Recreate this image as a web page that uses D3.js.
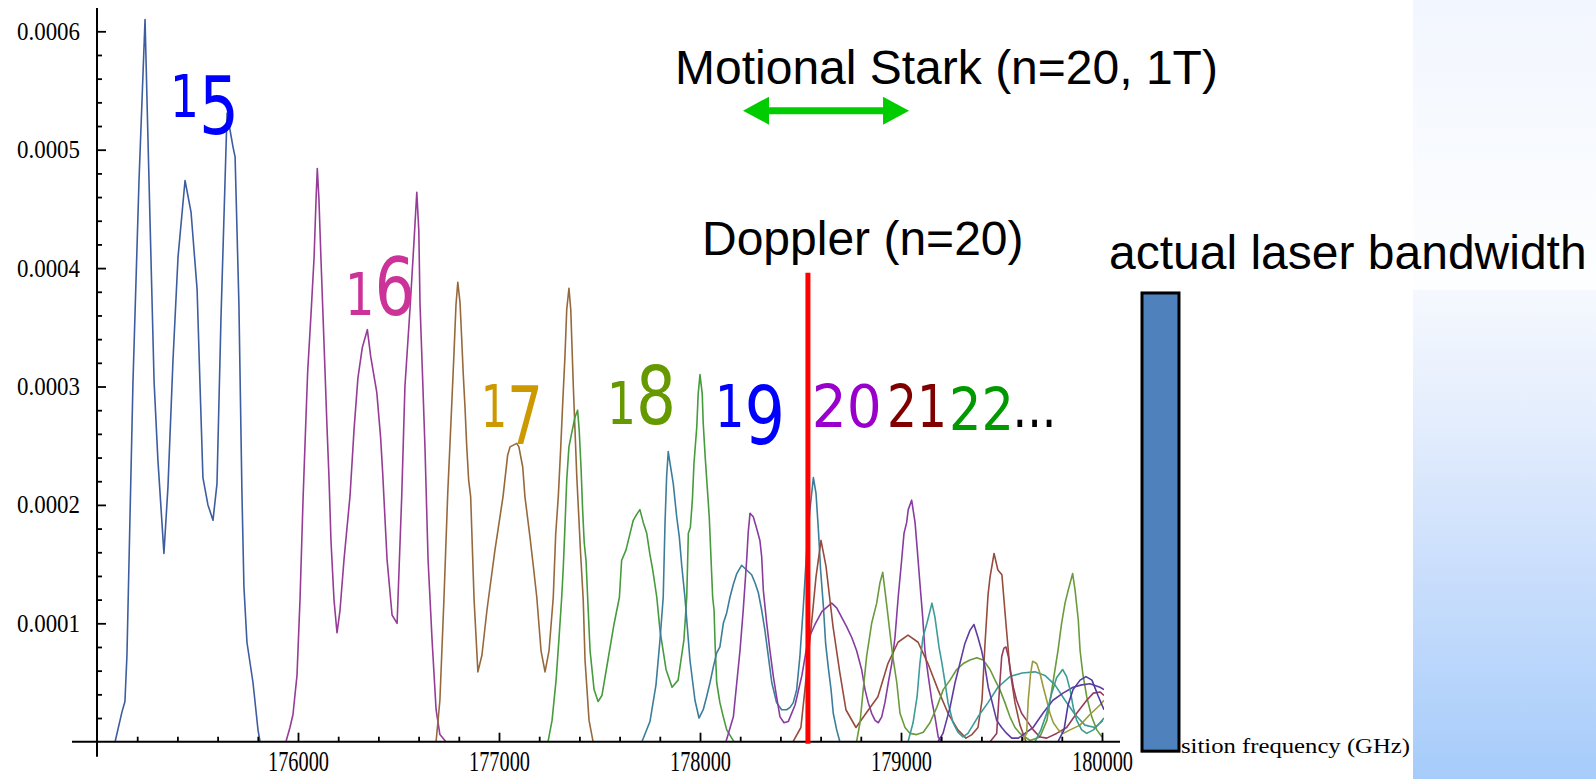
<!DOCTYPE html>
<html><head><meta charset="utf-8">
<script src="https://cdn.jsdelivr.net/npm/d3@7"></script>
<style>
html,body{margin:0;padding:0;background:#fff;overflow:hidden;}
svg{display:block;}
</style></head><body>
<svg id="chart" width="1596" height="779"></svg>
<script>
// ---------- DATA (frequency in GHz, transition strength) ----------
const series15 = [[175090,0],[175124,0.25e-4],[175139,0.34e-4],[175149,0.73e-4],[175179,3.04e-4],[175209,4.74e-4],[175239,6.10e-4],[175254,5.06e-4],[175284,3.04e-4],[175303,2.38e-4],[175333,1.59e-4],[175353,2.15e-4],[175378,3.22e-4],[175403,4.09e-4],[175438,4.74e-4],[175468,4.47e-4],[175498,3.82e-4],[175512,3.04e-4],[175527,2.23e-4],[175552,2.00e-4],[175577,1.87e-4],[175597,2.18e-4],[175617,3.59e-4],[175647,5.31e-4],[175677,5.02e-4],[175687,4.94e-4],[175706,3.70e-4],[175721,2.11e-4],[175731,1.31e-4],[175746,0.84e-4],[175776,0.50e-4],[175801,0.10e-4],[175811,0]];
const series16 = [[175940,0],[175960,0.12e-4],[175975,0.23e-4],[175995,0.56e-4],[176010,1.20e-4],[176025,2.04e-4],[176038,2.66e-4],[176048,3.12e-4],[176065,3.62e-4],[176080,4.09e-4],[176090,4.59e-4],[176096,4.84e-4],[176104,4.59e-4],[176114,4.09e-4],[176124,3.62e-4],[176134,3.15e-4],[176144,2.67e-4],[176154,2.24e-4],[176164,1.70e-4],[176179,1.20e-4],[176194,0.92e-4],[176209,1.11e-4],[176229,1.54e-4],[176259,2.08e-4],[176279,2.64e-4],[176298,3.07e-4],[176320,3.33e-4],[176345,3.48e-4],[176362,3.25e-4],[176392,2.95e-4],[176411,2.57e-4],[176421,2.28e-4],[176443,1.54e-4],[176468,1.07e-4],[176493,1.00e-4],[176516,2.07e-4],[176532,3.00e-4],[176557,3.65e-4],[176577,4.22e-4],[176591,4.64e-4],[176601,4.32e-4],[176607,3.70e-4],[176620,3.07e-4],[176632,2.47e-4],[176647,1.54e-4],[176667,0.86e-4],[176687,0.27e-4],[176706,0.06e-4],[176736,0]];
const series17 = [[176687,0],[176706,0.35e-4],[176726,1.20e-4],[176745,2.10e-4],[176756,2.51e-4],[176766,2.89e-4],[176776,3.28e-4],[176786,3.69e-4],[176795,3.88e-4],[176806,3.71e-4],[176814,3.42e-4],[176822,3.11e-4],[176831,2.82e-4],[176839,2.51e-4],[176849,2.21e-4],[176859,2.07e-4],[176876,1.20e-4],[176895,0.59e-4],[176915,0.73e-4],[176940,1.11e-4],[176980,1.62e-4],[177020,2.07e-4],[177043,2.42e-4],[177055,2.49e-4],[177088,2.52e-4],[177099,2.49e-4],[177118,2.32e-4],[177129,2.07e-4],[177154,1.73e-4],[177171,1.48e-4],[177188,1.22e-4],[177209,0.77e-4],[177229,0.59e-4],[177249,0.77e-4],[177270,1.22e-4],[177282,1.75e-4],[177295,2.07e-4],[177307,2.48e-4],[177317,2.86e-4],[177328,3.25e-4],[177337,3.65e-4],[177348,3.83e-4],[177357,3.65e-4],[177370,2.99e-4],[177387,2.24e-4],[177406,1.59e-4],[177419,1.20e-4],[177428,0.69e-4],[177448,0.18e-4],[177468,0]];
const series18 = [[177244,0],[177264,0.18e-4],[177284,0.52e-4],[177298,0.86e-4],[177312,1.22e-4],[177320,1.48e-4],[177328,1.81e-4],[177337,2.21e-4],[177348,2.49e-4],[177362,2.61e-4],[177378,2.74e-4],[177391,2.80e-4],[177399,2.63e-4],[177408,2.32e-4],[177416,1.96e-4],[177424,1.68e-4],[177433,1.53e-4],[177441,1.22e-4],[177453,0.77e-4],[177473,0.44e-4],[177493,0.34e-4],[177512,0.39e-4],[177542,0.69e-4],[177572,0.99e-4],[177599,1.22e-4],[177610,1.53e-4],[177632,1.62e-4],[177652,1.76e-4],[177668,1.87e-4],[177685,1.92e-4],[177701,1.96e-4],[177718,1.85e-4],[177735,1.76e-4],[177751,1.58e-4],[177765,1.45e-4],[177785,1.22e-4],[177801,0.94e-4],[177831,0.61e-4],[177861,0.46e-4],[177891,0.52e-4],[177920,0.86e-4],[177934,1.22e-4],[177942,1.76e-4],[177952,1.81e-4],[177962,2.04e-4],[177970,2.35e-4],[177984,2.66e-4],[177991,2.94e-4],[178000,3.10e-4],[178011,2.94e-4],[178016,2.69e-4],[178026,2.40e-4],[178036,2.15e-4],[178046,1.90e-4],[178053,1.62e-4],[178063,1.22e-4],[178070,1.11e-4],[178075,0.83e-4],[178083,0.50e-4],[178099,0.33e-4],[178116,0.21e-4],[178133,0.10e-4],[178158,0.03e-4],[178169,0]];
const series19 = [[177711,0],[177751,0.17e-4],[177781,0.48e-4],[177801,0.86e-4],[177817,1.22e-4],[177826,1.85e-4],[177834,2.24e-4],[177842,2.45e-4],[177851,2.35e-4],[177867,2.18e-4],[177884,1.90e-4],[177897,1.73e-4],[177909,1.49e-4],[177925,1.22e-4],[177950,0.69e-4],[177975,0.35e-4],[177995,0.20e-4],[178016,0.27e-4],[178033,0.38e-4],[178050,0.50e-4],[178066,0.63e-4],[178083,0.75e-4],[178099,0.80e-4],[178116,1.00e-4],[178133,1.09e-4],[178149,1.22e-4],[178166,1.33e-4],[178183,1.42e-4],[178207,1.49e-4],[178232,1.45e-4],[178257,1.41e-4],[178274,1.34e-4],[178290,1.26e-4],[178307,1.11e-4],[178323,0.94e-4],[178340,0.72e-4],[178357,0.50e-4],[178381,0.33e-4],[178406,0.27e-4],[178431,0.27e-4],[178448,0.29e-4],[178464,0.33e-4],[178481,0.44e-4],[178497,0.72e-4],[178514,1.14e-4],[178531,1.62e-4],[178547,1.96e-4],[178564,2.23e-4],[178577,2.10e-4],[178589,1.79e-4],[178600,1.45e-4],[178614,1.14e-4],[178625,0.83e-4],[178638,0.63e-4],[178652,0.44e-4],[178663,0.24e-4],[178680,0.10e-4],[178696,0]];
const series20 = [[178129,0],[178166,0.21e-4],[178183,0.50e-4],[178199,0.77e-4],[178215,1.11e-4],[178232,1.53e-4],[178240,1.77e-4],[178249,1.93e-4],[178265,1.90e-4],[178282,1.80e-4],[178298,1.70e-4],[178307,1.56e-4],[178315,1.28e-4],[178332,1.00e-4],[178348,0.77e-4],[178365,0.55e-4],[178381,0.38e-4],[178398,0.21e-4],[178418,0.16e-4],[178439,0.17e-4],[178473,0.31e-4],[178507,0.56e-4],[178537,0.86e-4],[178572,0.99e-4],[178607,1.10e-4],[178655,1.17e-4],[178680,1.13e-4],[178705,1.05e-4],[178730,0.97e-4],[178755,0.88e-4],[178779,0.77e-4],[178804,0.61e-4],[178821,0.44e-4],[178837,0.33e-4],[178854,0.24e-4],[178871,0.18e-4],[178887,0.16e-4],[178904,0.21e-4],[178920,0.33e-4],[178937,0.50e-4],[178954,0.66e-4],[178970,0.88e-4],[178986,1.22e-4],[179003,1.53e-4],[179015,1.76e-4],[179028,1.85e-4],[179036,1.96e-4],[179053,2.04e-4],[179070,1.85e-4],[179081,1.62e-4],[179094,1.34e-4],[179108,1.05e-4],[179119,0.77e-4],[179136,0.55e-4],[179153,0.35e-4],[179169,0.21e-4],[179185,0.04e-4],[179202,0]];
const series21 = [[178463,0],[178502,0.12e-4],[178522,0.44e-4],[178547,0.86e-4],[178577,1.39e-4],[178602,1.70e-4],[178627,1.48e-4],[178662,0.97e-4],[178696,0.58e-4],[178726,0.27e-4],[178776,0.12e-4],[178826,0.24e-4],[178885,0.38e-4],[178935,0.66e-4],[178985,0.84e-4],[179035,0.90e-4],[179085,0.84e-4],[179134,0.66e-4],[179184,0.44e-4],[179234,0.24e-4],[179283,0.10e-4],[179323,0.03e-4],[179353,0.06e-4],[179383,0.12e-4],[179403,0.35e-4],[179418,0.83e-4],[179433,1.24e-4],[179443,1.39e-4],[179463,1.59e-4],[179482,1.45e-4],[179502,1.41e-4],[179522,1.00e-4],[179542,0.61e-4],[179567,0.33e-4],[179592,0.14e-4],[179622,0]];
const series22 = [[178779,0],[178796,0.16e-4],[178812,0.44e-4],[178829,0.72e-4],[178854,1.00e-4],[178879,1.17e-4],[178895,1.34e-4],[178909,1.43e-4],[178920,1.28e-4],[178932,1.11e-4],[178945,0.92e-4],[178959,0.72e-4],[178979,0.50e-4],[178995,0.24e-4],[179020,0.12e-4],[179045,0.07e-4],[179078,0.06e-4],[179111,0.08e-4],[179144,0.16e-4],[179178,0.29e-4],[179210,0.44e-4],[179244,0.52e-4],[179277,0.61e-4],[179310,0.66e-4],[179343,0.69e-4],[179377,0.71e-4],[179409,0.69e-4],[179443,0.61e-4],[179468,0.52e-4],[179492,0.44e-4],[179517,0.33e-4],[179542,0.21e-4],[179567,0.12e-4],[179592,0.07e-4],[179642,0.01e-4],[179691,0.04e-4],[179726,0.18e-4],[179756,0.50e-4],[179781,0.77e-4],[179799,1.00e-4],[179816,1.17e-4],[179832,1.28e-4],[179854,1.42e-4],[179866,1.28e-4],[179882,1.03e-4],[179891,0.77e-4],[179904,0.58e-4],[179924,0.38e-4],[179949,0.21e-4],[179974,0.10e-4],[180000,0.04e-4]];
const series23 = [[179035,0],[179060,0.16e-4],[179080,0.38e-4],[179094,0.66e-4],[179109,0.88e-4],[179129,1.00e-4],[179154,1.17e-4],[179169,1.05e-4],[179189,0.80e-4],[179204,0.66e-4],[179219,0.50e-4],[179234,0.33e-4],[179259,0.16e-4],[179283,0.08e-4],[179308,0.04e-4],[179333,0.07e-4],[179383,0.21e-4],[179433,0.33e-4],[179482,0.46e-4],[179542,0.55e-4],[179602,0.58e-4],[179667,0.59e-4],[179716,0.56e-4],[179766,0.48e-4],[179816,0.35e-4],[179866,0.23e-4],[179915,0.14e-4],[179965,0.12e-4],[180005,0.18e-4]];
const series24 = [[179184,0],[179209,0.07e-4],[179244,0.29e-4],[179269,0.50e-4],[179293,0.66e-4],[179318,0.83e-4],[179343,0.94e-4],[179363,0.99e-4],[179383,0.88e-4],[179401,0.77e-4],[179418,0.63e-4],[179434,0.46e-4],[179451,0.35e-4],[179476,0.18e-4],[179501,0.12e-4],[179526,0.07e-4],[179551,0.03e-4],[179584,0.03e-4],[179617,0.07e-4],[179657,0.12e-4],[179706,0.24e-4],[179756,0.35e-4],[179806,0.41e-4],[179856,0.46e-4],[179899,0.48e-4],[179940,0.49e-4],[179990,0.46e-4],[180010,0.44e-4]];
const series25 = [[179443,0],[179476,0.07e-4],[179492,0.50e-4],[179501,0.72e-4],[179512,0.79e-4],[179522,0.80e-4],[179534,0.72e-4],[179547,0.58e-4],[179559,0.46e-4],[179575,0.35e-4],[179600,0.24e-4],[179625,0.18e-4],[179658,0.10e-4],[179691,0.04e-4],[179725,0.03e-4],[179774,0.07e-4],[179824,0.12e-4],[179874,0.24e-4],[179924,0.35e-4],[179957,0.41e-4],[179990,0.42e-4],[180010,0.39e-4]];
const series26 = [[179602,0],[179625,0.07e-4],[179633,0.35e-4],[179645,0.58e-4],[179655,0.68e-4],[179675,0.66e-4],[179691,0.58e-4],[179708,0.46e-4],[179725,0.35e-4],[179741,0.24e-4],[179758,0.16e-4],[179783,0.10e-4],[179808,0.07e-4],[179841,0.10e-4],[179891,0.14e-4],[179940,0.23e-4],[179990,0.31e-4],[180010,0.35e-4]];
const series27 = [[179667,0],[179696,0.10e-4],[179725,0.24e-4],[179750,0.41e-4],[179774,0.54e-4],[179804,0.61e-4],[179824,0.55e-4],[179841,0.44e-4],[179857,0.29e-4],[179874,0.18e-4],[179899,0.10e-4],[179924,0.07e-4],[179957,0.10e-4],[179990,0.16e-4],[180010,0.20e-4]];
const series28 = [[179781,0],[179811,0.10e-4],[179831,0.31e-4],[179856,0.44e-4],[179891,0.52e-4],[179920,0.55e-4],[179950,0.52e-4],[179980,0.39e-4],[180010,0.27e-4]];

const seriesList   = [series15, series16, series17, series18, series19, series20, series21, series22, series23, series24, series25, series26, series27, series28];
const seriesColors = ["#3d5da0","#963c96","#96693c","#469b3c","#3c7d9b","#873ca0","#964b3c","#699b3c","#3c9b9b","#5f3ca0","#963c5a","#9b9b3c","#3c9b8a","#4b3ca0"];

const xTickValues = [176000, 177000, 178000, 179000, 180000];
const xTickLabels = ["176000", "177000", "178000", "179000", "180000"];
const yTickValues = [0.0001, 0.0002, 0.0003, 0.0004, 0.0005, 0.0006];
const yTickLabels = ["0.0001", "0.0002", "0.0003", "0.0004", "0.0005", "0.0006"];

// principal quantum number labels (text, colour, centre frequency, baseline value)
const nLabels      = ["15", "16", "17", "18", "19", "20", "21", "22", "..."];
const nLabelColors = ["#0000ff", "#cc3399", "#cc9900", "#669900", "#0000ff", "#9900cc", "#800000", "#009900", "#000000"];
const nLabelFreq   = [175535, 176408, 177065, 177709, 178249, 178730, 179080, 179401, 179664];
const nLabelValue  = [5.28e-4, 3.60e-4, 2.66e-4, 2.68e-4, 2.66e-4, 2.66e-4, 2.66e-4, 2.63e-4, 2.66e-4];
const nLabelWidth  = [69, 70, 62, 69, 70, 70, 60, 65, 44];

const dopplerFreq = 178537;          // Doppler (n=20) marker
const dopplerTop = 3.96e-4;
const starkRange = [178214, 179040]; // Motional Stark (n=20, 1T) width
const starkLevel = 5.33e-4;
const laserBand = [180199, 180383];  // actual laser bandwidth bar
const laserTop = 3.79e-4;
const laserBottom = -0.08e-4;

// ---------- DRAWING ----------
const W = 1596, H = 779;
const svg = d3.select("#chart");
const x = d3.scaleLinear().domain([175000, 180000]).range([97, 1102]);
const y = d3.scaleLinear().domain([0, 0.0006]).range([741.7, 31.3]);

const defs = svg.append("defs");
const gTop = defs.append("linearGradient").attr("id", "gTop").attr("x1", 0).attr("y1", 0).attr("x2", 0).attr("y2", 1);
gTop.append("stop").attr("offset", "0%").attr("stop-color", "#f2f6fe");
gTop.append("stop").attr("offset", "100%").attr("stop-color", "#fdfeff");
const gBot = defs.append("linearGradient").attr("id", "gBot").attr("x1", 0).attr("y1", 0).attr("x2", 0).attr("y2", 1);
gBot.append("stop").attr("offset", "0%").attr("stop-color", "#f5f8fe");
gBot.append("stop").attr("offset", "25%").attr("stop-color", "#e5eefd");
gBot.append("stop").attr("offset", "60%").attr("stop-color", "#c8ddfc");
gBot.append("stop").attr("offset", "100%").attr("stop-color", "#a6ccfa");

svg.append("rect").attr("x", 0).attr("y", 0).attr("width", W).attr("height", H).attr("fill", "#ffffff");
svg.append("rect").attr("x", 1413).attr("y", 0).attr("width", W - 1413).attr("height", 290).attr("fill", "url(#gTop)");
svg.append("rect").attr("x", 1413).attr("y", 290).attr("width", W - 1413).attr("height", H - 290).attr("fill", "url(#gBot)");

defs.append("clipPath").attr("id", "plotClip").append("rect")
  .attr("x", x(175000)).attr("y", 0).attr("width", x(180010) - x(175000)).attr("height", y(0) + 1);

// curves
const line = d3.line().x(d => x(d[0])).y(d => y(d[1]));
const gCurves = svg.append("g").attr("clip-path", "url(#plotClip)");
gCurves.selectAll("path").data(seriesList).join("path")
  .attr("d", line).attr("fill", "none")
  .attr("stroke", (d, i) => seriesColors[i])
  .attr("stroke-width", 1.6).attr("stroke-linejoin", "round");

// axes lines
svg.append("line").attr("x1", x(175000) - 25).attr("x2", x(180000) + 18)
  .attr("y1", y(0)).attr("y2", y(0)).attr("stroke", "#000").attr("stroke-width", 2);
svg.append("line").attr("x1", x(175000)).attr("x2", x(175000))
  .attr("y1", 8).attr("y2", y(0) + 15).attr("stroke", "#000").attr("stroke-width", 2);

// x ticks
const xMinor = d3.range(175200, 180001, 200).filter(v => v % 1000 !== 0);
const gxMinor = svg.append("g").attr("transform", `translate(0,${y(0)})`)
  .call(d3.axisBottom(x).tickValues(xMinor).tickFormat("").tickSize(-5).tickSizeOuter(0));
gxMinor.select(".domain").remove();
const gx = svg.append("g").attr("transform", `translate(0,${y(0)})`)
  .call(d3.axisBottom(x).tickValues(xTickValues).tickFormat((d, i) => xTickLabels[i]).tickSize(-9).tickSizeOuter(0).tickPadding(9));
gx.select(".domain").remove();
gx.selectAll("text").attr("font-family", "'Liberation Serif', serif").attr("font-size", 29)
  .attr("fill", "#000").attr("textLength", 61).attr("lengthAdjust", "spacingAndGlyphs");

// y ticks
const yMinor = d3.range(0.00002, 0.000601, 0.00002).filter(v => Math.abs(v * 10000 - Math.round(v * 10000)) > 1e-6);
const gyMinor = svg.append("g").attr("transform", `translate(${x(175000)},0)`)
  .call(d3.axisLeft(y).tickValues(yMinor).tickFormat("").tickSize(-5).tickSizeOuter(0));
gyMinor.select(".domain").remove();
const gy = svg.append("g").attr("transform", `translate(${x(175000)},0)`)
  .call(d3.axisLeft(y).tickValues(yTickValues).tickFormat((d, i) => yTickLabels[i]).tickSize(-9).tickSizeOuter(0).tickPadding(17));
gy.select(".domain").remove();
gy.selectAll("text").attr("font-family", "'Liberation Serif', serif").attr("font-size", 25)
  .attr("fill", "#000").attr("textLength", 63).attr("lengthAdjust", "spacingAndGlyphs");
svg.selectAll(".tick line").attr("stroke", "#000").attr("stroke-width", 1.8);

// axis title (partly hidden in the original)
svg.append("text").attr("x", x(laserBand[1]) + 2).attr("y", 753)
  .attr("font-family", "'Liberation Serif', serif").attr("font-size", 20)
  .attr("textLength", 229).attr("lengthAdjust", "spacingAndGlyphs")
  .text("sition frequency (GHz)");

// laser bandwidth bar
svg.append("rect").attr("x", x(laserBand[0])).attr("y", y(laserTop))
  .attr("width", x(laserBand[1]) - x(laserBand[0])).attr("height", y(laserBottom) - y(laserTop))
  .attr("fill", "#4f81bd").attr("stroke", "#000").attr("stroke-width", 3);

// Doppler marker
svg.append("line").attr("x1", x(dopplerFreq)).attr("x2", x(dopplerFreq))
  .attr("y1", y(dopplerTop)).attr("y2", y(0) + 2).attr("stroke", "#ff0000").attr("stroke-width", 5);

// Motional Stark double arrow
{
  const x0 = x(starkRange[0]), x1 = x(starkRange[1]), yc = y(starkLevel);
  const hl = 26, hh = 14, sh = 3.5;
  const p = d3.path();
  p.moveTo(x0, yc); p.lineTo(x0 + hl, yc - hh); p.lineTo(x0 + hl, yc - sh);
  p.lineTo(x1 - hl, yc - sh); p.lineTo(x1 - hl, yc - hh); p.lineTo(x1, yc);
  p.lineTo(x1 - hl, yc + hh); p.lineTo(x1 - hl, yc + sh); p.lineTo(x0 + hl, yc + sh);
  p.lineTo(x0 + hl, yc + hh); p.closePath();
  svg.append("path").attr("d", p.toString()).attr("fill", "#00cc00");
}

// annotation texts
const sans = "'Liberation Sans', Arial, sans-serif";
svg.append("text").attr("x", 675).attr("y", 84).attr("font-family", sans).attr("font-size", 48)
  .attr("fill", "#000").text("Motional Stark (n=20, 1T)");
svg.append("text").attr("x", 702).attr("y", 255).attr("font-family", sans).attr("font-size", 48)
  .attr("fill", "#000").text("Doppler (n=20)");
svg.append("text").attr("x", 1109).attr("y", 269).attr("font-family", sans).attr("font-size", 48)
  .attr("fill", "#000").text("actual laser bandwidth");

// n labels drawn with old-style (text) figures:
// 0,1,2 sit at x-height; 6,8 ascend; 3,4,5,7,9 descend below the baseline
const smallSize = 58, tallSize = 80, descShift = 17;
const gLab = svg.append("g");
nLabels.forEach((lab, i) => {
  const t = gLab.append("text")
    .attr("x", 0).attr("y", 0)
    .attr("text-anchor", "middle")
    .attr("font-family", "'DejaVu Sans', Verdana, sans-serif")
    .attr("fill", nLabelColors[i]);
  let shift = 0;
  for (const ch of lab) {
    let size = smallSize, target = 0;
    if ("68".includes(ch)) size = tallSize;
    else if ("34579".includes(ch)) { size = tallSize; target = descShift; }
    t.append("tspan").attr("font-size", size).attr("dy", target - shift).text(ch);
    shift = target;
  }
  const natural = t.node().getComputedTextLength() || nLabelWidth[i];
  const sx = nLabelWidth[i] / natural;
  t.attr("transform", `translate(${x(nLabelFreq[i])},${y(nLabelValue[i])}) scale(${sx},1)`);
});
</script>
</body></html>
